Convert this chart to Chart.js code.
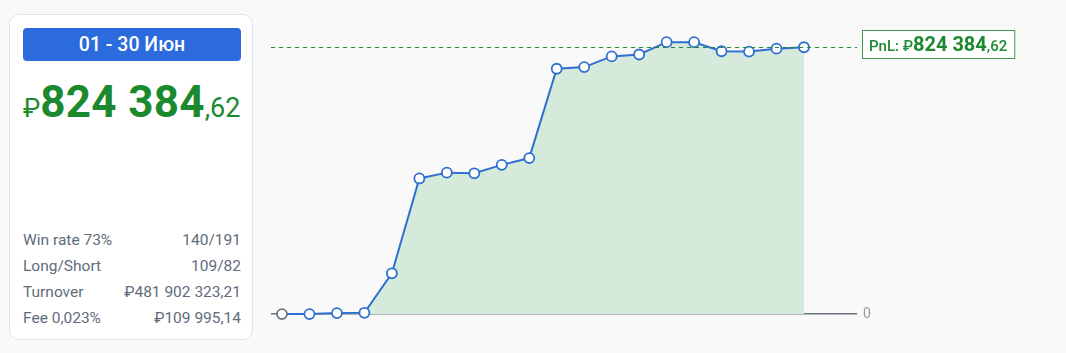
<!DOCTYPE html>
<html>
<head>
<meta charset="utf-8">
<script src="https://cdn.jsdelivr.net/npm/chart.js@4/dist/chart.umd.min.js"></script>
<style>
  html, body { margin: 0; padding: 0; }
  body { width: 1066px; height: 353px; background: #f9f9f9; font-family: Roboto, "Noto Sans", sans-serif; position: relative; overflow: hidden; }
  #card { position: absolute; left: 9px; top: 14px; width: 244px; height: 326px; box-sizing: border-box; background: #fff; border: 1px solid #dde3eb; border-radius: 10px; }
  #period { position: absolute; left: 13px; top: 13px; width: 218px; height: 33px; background: #2b6bdd; border-radius: 4px; color: #fff; font-size: 19.5px; font-weight: 500; text-align: center; line-height: 33px; }
  #total { position: absolute; left: 13px; top: 61px; white-space: nowrap; color: #1b8a2f; }
  #total .cur { font-size: 26px; }
  #total .int { font-size: 44px; font-weight: 700; letter-spacing: 0.3px; }
  #total .dec { font-size: 27px; }
  .row { position: absolute; left: 13px; width: 218px; font-size: 15.5px; color: #5f6b7b; }
  .row span:last-child { float: right; }
  #chart-wrap { position: absolute; left: 0; top: 0; width: 1066px; height: 353px; }
</style>
</head>
<body>
<div id="chart-wrap"><canvas id="pnl-chart"></canvas></div>
<div id="card">
  <div id="period">01 - 30 Июн</div>
  <div id="total"><span class="cur">₽</span><span class="int">824 384</span><span class="dec">,62</span></div>
  <div class="row" style="top:216px"><span>Win rate 73%</span><span>140/191</span></div>
  <div class="row" style="top:242px"><span>Long/Short</span><span>109/82</span></div>
  <div class="row" style="top:268px"><span>Turnover</span><span>₽481 902 323,21</span></div>
  <div class="row" style="top:294px"><span>Fee 0,023%</span><span>₽109 995,14</span></div>
</div>
<script>
// cumulative PnL per trading day
var days = ['01', '02', '03', '04', '05', '06', '07', '08', '09', '10',
            '11', '12', '13', '14', '15', '16', '17', '18', '19', '20'];
var pnl = [0, 0, 3000, 4000, 126000, 419000, 437000, 435000, 461000, 482000,
           758000, 763000, 796000, 802000, 840000, 840000, 812000, 811000, 820000, 824384.62];
var yTicks = [0];
var pnlLabel = { prefix: 'PnL: ₽', int: '824 384', dec: ',62' };

var GREEN = '#1b8a2f';
var BLUE = '#2f6fcf';

var lastLinePlugin = {
    id: 'lastLine',
    afterDatasetsDraw: function (chart) {
        var ctx = chart.ctx;
        var area = chart.chartArea;
        var y = chart.scales.y.getPixelForValue(pnl[pnl.length - 1]);
        ctx.save();
        ctx.strokeStyle = '#1f8a35';
        ctx.lineWidth = 1;
        ctx.setLineDash([4, 4]);
        ctx.beginPath();
        ctx.moveTo(area.left, Math.round(y) + 0.5);
        ctx.lineTo(area.right, Math.round(y) + 0.5);
        ctx.stroke();
        ctx.setLineDash([]);

        // label box
        var f1 = '500 15px Roboto', f2 = '700 20px Roboto', f3 = '500 15px Roboto';
        ctx.font = f1; var w1 = ctx.measureText(pnlLabel.prefix).width;
        ctx.font = f2; var w2 = ctx.measureText(pnlLabel.int).width;
        ctx.font = f3; var w3 = ctx.measureText(pnlLabel.dec).width;
        var bx = area.right + 5.5, by = Math.round(y) - 16.5, bh = 28;
        var bw = w1 + w2 + w3 + 14;
        ctx.fillStyle = '#fff';
        ctx.fillRect(bx, by, bw, bh);
        ctx.strokeStyle = '#3f9a50';
        ctx.strokeRect(bx, by, bw, bh);
        ctx.fillStyle = GREEN;
        ctx.textBaseline = 'alphabetic';
        var tx = bx + 6.5, ty = by + 20.5;
        ctx.font = f1; ctx.fillText(pnlLabel.prefix, tx, ty); tx += w1;
        ctx.font = f2; ctx.fillText(pnlLabel.int, tx, ty); tx += w2;
        ctx.font = f3; ctx.fillText(pnlLabel.dec, tx, ty);
        ctx.restore();
    }
};

new Chart(document.getElementById('pnl-chart'), {
    type: 'line',
    data: {
        datasets: [{
            label: 'PnL',
            data: pnl.map(function (v, i) { return { x: i, y: v, day: days[i] }; }),
            borderColor: BLUE,
            borderWidth: 2,
            backgroundColor: '#d5eadb',
            fill: 'origin',
            tension: 0,
            pointRadius: 5,
            pointBorderWidth: 1.8,
            pointBackgroundColor: '#fff',
            pointBorderColor: pnl.map(function (v, i) { return i === 0 ? '#6b7380' : BLUE; })
        }]
    },
    options: {
        responsive: true,
        maintainAspectRatio: false,
        animation: false,
        layout: { padding: { left: 271, right: 0, top: 7, bottom: 23 } },
        plugins: { legend: { display: false }, tooltip: { enabled: false } },
        scales: {
            x: {
                type: 'linear',
                display: false,
                min: -0.4,
                max: 20.93
            },
            y: {
                position: 'right',
                min: -49217,
                max: 925896,
                afterBuildTicks: function (scale) {
                    scale.ticks = yTicks.map(function (v) { return { value: v }; });
                },
                afterFit: function (scale) { scale.width = 209; },
                ticks: {
                    padding: 6,
                    color: '#979ba1',
                    font: { family: 'Roboto', size: 14 },
                    callback: function (v) { return String(v); }
                },
                grid: { color: '#6b7380', lineWidth: 1.5, drawTicks: false },
                border: { display: false }
            }
        }
    },
    plugins: [lastLinePlugin]
});
</script>
</body>
</html>
